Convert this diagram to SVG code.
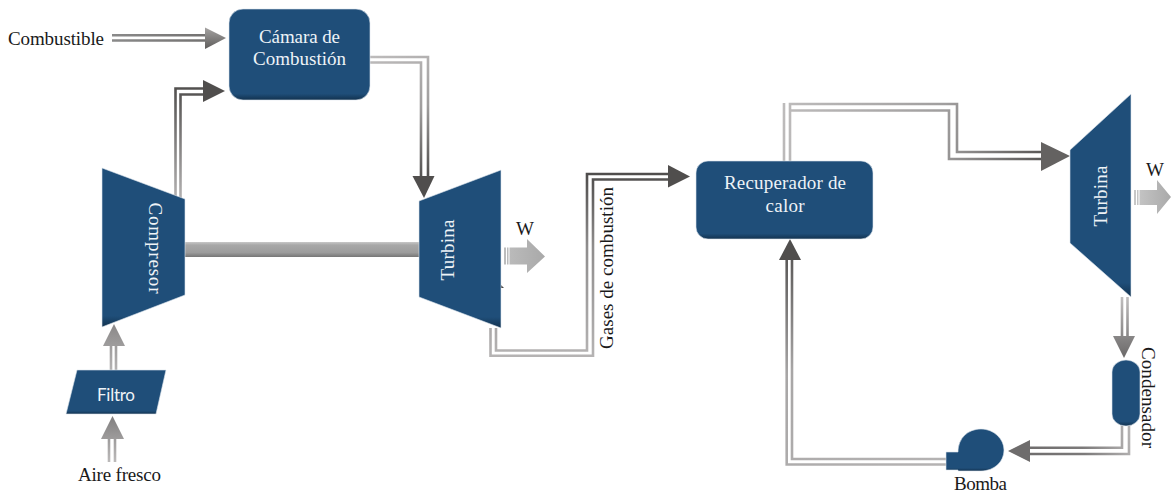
<svg xmlns="http://www.w3.org/2000/svg" width="1171" height="495" viewBox="0 0 1171 495">
<style>
text{font-family:"Liberation Serif","DejaVu Serif",serif;font-size:19px;fill:#1a1a1a}
.w{fill:#eef3f7;text-anchor:middle}
.n{fill:url(#blue);stroke:#dbe4ec;stroke-width:.6}
.p{fill:none;stroke-width:2.6}
</style>
<defs>
<linearGradient id="blue" x1="0" y1="0" x2="0" y2="1"><stop offset="0" stop-color="#1f4e79"/><stop offset=".93" stop-color="#1f4e79"/><stop offset="1" stop-color="#12324f"/></linearGradient>
<linearGradient id="shaft" x1="0" y1="0" x2="0" y2="1"><stop offset="0" stop-color="#c8c8c8"/><stop offset=".2" stop-color="#a8a8a8"/><stop offset=".7" stop-color="#9c9c9c"/><stop offset="1" stop-color="#767676"/></linearGradient>
<linearGradient id="fuel" gradientUnits="userSpaceOnUse" x1="112" y1="0" x2="226" y2="0"><stop offset="0" stop-color="#8a8a8a"/><stop offset="1" stop-color="#6e6c6b"/></linearGradient>
<linearGradient id="fuelH" x1="0" y1="0" x2="0" y2="1"><stop offset="0" stop-color="#a5a3a2"/><stop offset="1" stop-color="#5e5c5b"/></linearGradient>
<linearGradient id="comp" gradientUnits="userSpaceOnUse" x1="0" y1="195" x2="0" y2="85"><stop offset="0" stop-color="#b0aeae"/><stop offset="1" stop-color="#4f4d4c"/></linearGradient>
<linearGradient id="air" gradientUnits="userSpaceOnUse" x1="0" y1="370" x2="0" y2="324"><stop offset="0" stop-color="#b5b3b3"/><stop offset="1" stop-color="#8a8888"/></linearGradient>
<linearGradient id="air2" gradientUnits="userSpaceOnUse" x1="0" y1="462" x2="0" y2="416"><stop offset="0" stop-color="#bcbaba"/><stop offset="1" stop-color="#807e7e"/></linearGradient>
<linearGradient id="hot" gradientUnits="userSpaceOnUse" x1="370" y1="57" x2="424" y2="180"><stop offset="0" stop-color="#bdbbbb"/><stop offset=".5" stop-color="#a09e9e"/><stop offset="1" stop-color="#4f4d4c"/></linearGradient>
<linearGradient id="gases" gradientUnits="userSpaceOnUse" x1="0" y1="356" x2="0" y2="174"><stop offset="0" stop-color="#b5b3b3"/><stop offset=".6" stop-color="#8f8d8d"/><stop offset="1" stop-color="#4f4d4c"/></linearGradient>
<linearGradient id="steam" gradientUnits="userSpaceOnUse" x1="784" y1="104" x2="1042" y2="160"><stop offset="0" stop-color="#bdbbbb"/><stop offset=".6" stop-color="#a09e9e"/><stop offset="1" stop-color="#595756"/></linearGradient>
<linearGradient id="ret" gradientUnits="userSpaceOnUse" x1="946" y1="464" x2="790" y2="239"><stop offset="0" stop-color="#b5b3b3"/><stop offset=".6" stop-color="#a8a6a6"/><stop offset="1" stop-color="#4f4d4c"/></linearGradient>
<linearGradient id="cond" gradientUnits="userSpaceOnUse" x1="0" y1="297" x2="0" y2="358"><stop offset="0" stop-color="#c0bebe"/><stop offset="1" stop-color="#6a6868"/></linearGradient>
<linearGradient id="pump" gradientUnits="userSpaceOnUse" x1="1129" y1="426" x2="1008" y2="451"><stop offset="0" stop-color="#b5b3b3"/><stop offset=".4" stop-color="#7c7a7a"/><stop offset="1" stop-color="#6a6868"/></linearGradient>
<linearGradient id="work" gradientUnits="userSpaceOnUse" x1="504" y1="0" x2="545" y2="0"><stop offset="0" stop-color="#bdbdbd"/><stop offset="1" stop-color="#a9a9a9"/></linearGradient>
<linearGradient id="work2" gradientUnits="userSpaceOnUse" x1="1134" y1="0" x2="1171" y2="0"><stop offset="0" stop-color="#c8c8c8"/><stop offset="1" stop-color="#a9a9a9"/></linearGradient>
</defs>
<g id="connectors">
<g id="c-combustible"><path class="p" stroke="url(#fuel)" d="M112 35.2H206M112 40.5H206"/><polygon fill="url(#fuelH)" points="205,27.500 226,38 205,49"/></g>
<g id="c-compresor-camara"><path class="p" stroke="url(#comp)" d="M175.500 197V88.500H204M180.500 199V94.500H204"/><polygon fill="#504e4d" points="203,80 225,91 203,102"/></g>
<g id="c-filtro-compresor"><path class="p" stroke="url(#air)" d="M111 370V345M116 370V345"/><polygon fill="url(#air)" points="114,324 125,346 103,346"/></g>
<g id="c-aire-filtro"><path class="p" stroke="url(#air2)" d="M109 462V438M115 462V438"/><polygon fill="url(#air2)" points="112.500,416 124,439 101,439"/></g>
<g id="c-camara-turbina"><path class="p" stroke="url(#hot)" d="M370 57H428V177M370 62.500H421V177"/><polygon fill="#504e4d" points="412.500,176 434.500,176 424,198"/></g>
<g id="c-gases"><path class="p" stroke="url(#gases)" d="M490.500 328V355.700H593V179.500H669M496 328V350.500H587V174H669"/><polygon fill="#504e4d" points="668,165 690,176.500 668,187.500"/></g>
<g id="c-recuperador-turbina"><path class="p" stroke="url(#steam)" d="M784 161V103M790 161V104H957V152H1042M790 110.500H949V159H1042"/><polygon fill="#646261" points="1041,142 1070,156 1041,171"/></g>
<g id="c-turbina-condensador"><path class="p" stroke="url(#cond)" d="M1122 297V337M1127.500 297V337"/><polygon fill="url(#cond)" points="1113,336 1135,336 1124,358"/></g>
<g id="c-condensador-bomba"><path class="p" stroke="url(#pump)" d="M1122 426V447.700H1029M1129 426V454H1029"/><polygon fill="#6e6c6c" points="1030,440 1030,462 1008,451"/></g>
<g id="c-bomba-recuperador"><path class="p" stroke="url(#ret)" d="M946 459H792V260M946 464.500H786.700V260"/><polygon fill="#504e4d" points="779,260 801,260 790,239"/></g>
<g id="c-shaft"><rect x="185" y="242" width="234" height="15" fill="url(#shaft)"/></g>
<g id="c-work1"><path fill="url(#work)" d="M504 247.500H527V239L545 256.500 527 273V264.500H504Z"/><path stroke="#fff" stroke-width="1" d="M506.500 247V265M509 247V265"/></g>
<g id="c-work2"><path fill="url(#work2)" d="M1134 190H1157V180L1171 197 1157 214V205H1134Z"/><path stroke="#fff" stroke-width="1" d="M1136.500 190V205M1139 190V205"/></g>
</g>
<g id="camara"><rect class="n" x="229" y="9" width="141" height="91" rx="14"/><text class="w" x="299.500" y="43" textLength="81">Cámara de</text><text class="w" x="299.500" y="65" textLength="93">Combustión</text></g>
<g id="compresor"><polygon class="n" points="102,168 185,199 185,295 102,327"/><text class="w" transform="translate(148.500 248) rotate(90)" textLength="91">Compresor</text></g>
<g id="filtro"><polygon class="n" points="77,370 166,370 156,414 66,414"/><text class="w" x="116" y="401" style="font-family:Lato,'Noto Sans',sans-serif;font-size:17px" textLength="38">Filtro</text></g>
<g id="turbina1"><polygon fill="#4a4a4a" points="500,284 504,288 500,288"/><polygon class="n" points="419,201 501,170 501,328 419,297"/><text class="w" transform="translate(454 250) rotate(-90)" textLength="61">Turbina</text></g>
<g id="recuperador"><rect class="n" x="696" y="161" width="177" height="78" rx="12"/><text class="w" x="785" y="189" textLength="122">Recuperador de</text><text class="w" x="785" y="212" textLength="39">calor</text></g>
<g id="turbina2"><polygon class="n" points="1070,150 1131,94 1131,297 1070,243"/><text class="w" transform="translate(1107 196) rotate(-90)" textLength="61">Turbina</text></g>
<g id="condensador"><rect class="n" x="1112" y="360" width="28" height="66" rx="14" ry="12"/></g>
<g id="bomba"><path class="n" d="M946 452H958C958 438 968 429 981 429C994 429 1004 439 1004 450C1004 462 994 471 981 471H958V470H946Z"/></g>
<g id="labels">
<text x="8" y="45" textLength="96">Combustible</text>
<text x="78" y="481" textLength="83">Aire fresco</text>
<text transform="translate(613 349) rotate(-90)" textLength="162">Gases de combustión</text>
<text x="516" y="235" textLength="16">W</text>
<text x="1146" y="176" textLength="16">W</text>
<text transform="translate(1141.500 347) rotate(90)" textLength="101">Condensador</text>
<text x="954" y="490" textLength="53">Bomba</text>
</g>
</svg>
